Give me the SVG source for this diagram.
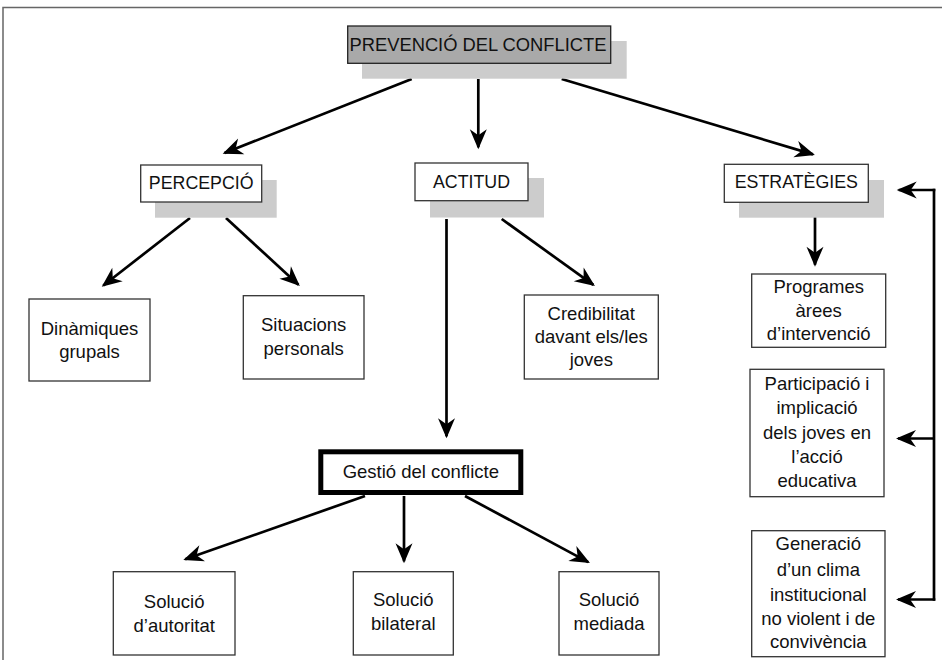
<svg xmlns="http://www.w3.org/2000/svg" width="942" height="660" viewBox="0 0 942 660">
<style>
text{font-family:"Liberation Sans",Arial,Helvetica,sans-serif;font-size:18.5px;fill:#111;text-anchor:middle}
.box{fill:#fff;stroke:#333;stroke-width:1.3}
.shadow{fill:#cccccc}
.head{fill:#a9a9a9;stroke:#222;stroke-width:1.3}
.cap{font-size:17.8px}
.arr{stroke:#000;stroke-width:2.7;fill:none;marker-end:url(#ah)}
.ln{stroke:#000;stroke-width:2.7;fill:none}
</style>
<defs>
<marker id="ah" markerUnits="userSpaceOnUse" markerWidth="34" markerHeight="34" viewBox="-24 -12 34 24" refX="-2" refY="0" orient="auto">
<path d="M0,0 L-20,-8.5 L-14,0 L-20,8.5 Z" fill="#000"/>
</marker>
</defs>
<rect width="942" height="660" fill="#fff"/>
<g id="frame"><path d="M3,660 V7.5 H942" fill="none" stroke="#666" stroke-width="1.5"/></g>

<g id="connectors">
<line class="arr" x1="411.7" y1="79" x2="224.5" y2="153"/>
<line class="arr" x1="478.3" y1="79" x2="478.3" y2="147.3"/>
<line class="arr" x1="561.7" y1="79" x2="813" y2="154.4"/>
<line class="arr" x1="190" y1="218" x2="103.3" y2="285.5"/>
<line class="arr" x1="226" y1="218" x2="298.4" y2="284.7"/>
<line class="arr" x1="501.7" y1="219" x2="593.3" y2="284.9"/>
<line class="arr" x1="446.5" y1="219" x2="446.5" y2="436.3"/>
<line class="arr" x1="815" y1="217" x2="815" y2="264.7"/>
<line class="arr" x1="365" y1="496" x2="185.2" y2="559.3"/>
<line class="arr" x1="404" y1="496" x2="404" y2="561.3"/>
<line class="arr" x1="465" y1="496" x2="588.2" y2="562.1"/>
<path class="ln" d="M934,190 V599.5" stroke-linecap="square"/>
<line class="arr" x1="935.3" y1="190" x2="898.7" y2="190"/>
<line class="arr" x1="934" y1="438.5" x2="898" y2="438.5"/>
<line class="arr" x1="935.3" y1="599.5" x2="898" y2="599.5"/>
</g>

<g id="prevencio">
<rect class="shadow" x="362" y="41" width="264.7" height="37.7"/>
<rect class="head" x="347.7" y="26" width="263" height="37.3"/>
<text x="478" y="50.5" style="font-size:18.5px" textLength="257" lengthAdjust="spacingAndGlyphs">PREVENCIÓ DEL CONFLICTE</text>
</g>
<g id="percepcio">
<rect class="shadow" x="155" y="180" width="121.7" height="37.7"/>
<rect class="box" x="140.7" y="165" width="121" height="37"/>
<text class="cap" x="201.2" y="188.5">PERCEPCIÓ</text>
</g>
<g id="actitud">
<rect class="shadow" x="430" y="178" width="114" height="39.5"/>
<rect class="box" x="415" y="163" width="113" height="37.7"/>
<text class="cap" x="471.5" y="187.5">ACTITUD</text>
</g>
<g id="estrategies">
<rect class="shadow" x="739" y="180" width="145" height="37.7"/>
<rect class="box" x="724.3" y="164.3" width="144" height="38"/>
<text class="cap" x="796.3" y="188">ESTRATÈGIES</text>
</g>
<g id="dinamiques">
<rect class="box" x="29" y="299" width="121" height="82"/>
<text x="89.5" y="334.5">Dinàmiques</text>
<text x="89.5" y="358">grupals</text>
</g>
<g id="situacions">
<rect class="box" x="243.3" y="295.7" width="120.7" height="83.3"/>
<text x="303.7" y="331">Situacions</text>
<text x="303.7" y="355.3">personals</text>
</g>
<g id="credibilitat">
<rect class="box" x="524.3" y="295" width="134" height="84"/>
<text x="591.3" y="319.5">Credibilitat</text>
<text x="591.3" y="342.5">davant els/les</text>
<text x="591.3" y="366">joves</text>
</g>
<g id="programes">
<rect class="box" x="751.7" y="274" width="134" height="73.3"/>
<text x="818.7" y="292.7">Programes</text>
<text x="818.7" y="316.7">àrees</text>
<text x="818.7" y="340.3">d’intervenció</text>
</g>
<g id="participacio">
<rect class="box" x="750" y="369.3" width="134" height="127.4"/>
<text x="817" y="389.5">Participació i</text>
<text x="817" y="414">implicació</text>
<text x="817" y="438.7">dels joves en</text>
<text x="817" y="462.7">l’acció</text>
<text x="817" y="486.7">educativa</text>
</g>
<g id="generacio">
<rect class="box" x="751.7" y="530.7" width="133.3" height="126"/>
<text x="818.3" y="550">Generació</text>
<text x="818.3" y="576">d’un clima</text>
<text x="818.3" y="601">institucional</text>
<text x="818.3" y="624.5">no violent i de</text>
<text x="818.3" y="648">convivència</text>
</g>
<g id="gestio">
<rect x="320.8" y="451.8" width="200" height="40.7" fill="#fff" stroke="#000" stroke-width="5"/>
<text x="420.8" y="478">Gestió del conflicte</text>
</g>
<g id="autoritat">
<rect class="box" x="113.3" y="571.7" width="121.7" height="83.3"/>
<text x="174.2" y="607.7">Solució</text>
<text x="174.2" y="631.7">d’autoritat</text>
</g>
<g id="bilateral">
<rect class="box" x="353.3" y="571.7" width="100" height="83.3"/>
<text x="403.3" y="606">Solució</text>
<text x="403.3" y="630">bilateral</text>
</g>
<g id="mediada">
<rect class="box" x="559" y="571.7" width="100" height="83.3"/>
<text x="609" y="606">Solució</text>
<text x="609" y="630">mediada</text>
</g>
</svg>
